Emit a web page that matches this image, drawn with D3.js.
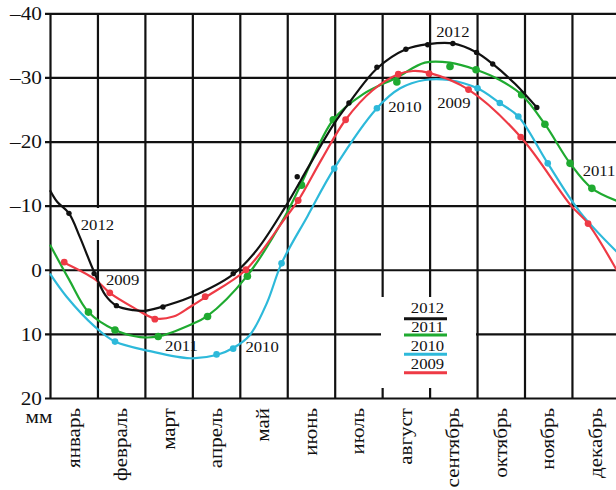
<!DOCTYPE html>
<html>
<head>
<meta charset="utf-8">
<script src="https://cdn.jsdelivr.net/npm/d3@7"></script>
<style>
  body { margin: 0; background: #fff; }
  svg { display: block; }
  text { font-family: "Liberation Serif", "Times New Roman", serif; fill: #111; }
</style>
</head>
<body>
<svg id="chart" width="616" height="490"></svg>
<script>
// ---- data -------------------------------------------------------------
const months = ["январь", "февраль", "март", "апрель", "май", "июнь",
                "июль", "август", "сентябрь", "октябрь", "ноябрь", "декабрь"];
const yTicks = [-40, -30, -20, -10, 0, 10, 20];
const unitLabel = "мм";
const years = ["2012", "2011", "2010", "2009"];

// smoothed level curves: [month position (0 = 1 January), level in mm]
const line2012 = [[0, -12.4], [0.15, -10.6], [0.40, -8.8], [0.63, -5.1], [0.91, 0.0], [1.17, 4.0],
  [1.40, 5.6], [1.76, 6.3], [2.0, 6.4], [2.3, 5.9], [2.95, 4.3], [3.86, 0.7], [4.36, -3.1],
  [4.95, -9.7], [5.46, -16.2], [5.97, -22.6], [6.30, -26.0], [6.89, -31.4], [7.50, -34.4],
  [7.97, -35.2], [8.49, -35.3], [8.99, -33.9], [9.33, -32.1], [9.80, -29.0], [10.26, -25.3]];
const line2011 = [[0, -3.9], [0.40, 1.5], [0.81, 6.6], [1.37, 9.4], [1.90, 10.5], [2.28, 10.4],
  [2.95, 8.6], [3.32, 7.2], [4.15, 1.0], [4.95, -8.3], [5.30, -13.5], [5.97, -23.4], [6.60, -27.4],
  [7.31, -30.0], [7.90, -32.3], [8.43, -32.3], [8.98, -31.2], [9.48, -29.6], [9.94, -27.3],
  [10.43, -22.7], [10.96, -16.6], [11.42, -12.7], [12, -10.6]];
const line2010 = [[0, 0.6], [0.35, 4.2], [0.95, 8.9], [1.37, 11.2], [2.11, 12.7], [2.95, 13.8],
  [3.51, 13.3], [3.86, 12.2], [4.21, 10.2], [4.57, 5.2], [4.88, -1.0], [5.43, -8.4], [5.99, -15.8],
  [6.89, -25.2], [7.38, -28.3], [7.90, -29.6], [8.40, -29.6], [9.01, -28.3], [9.48, -26.0],
  [9.87, -23.9], [10.49, -16.6], [11.17, -9.0], [12, -2.4]];
const line2009 = [[0.30, -1.1], [0.95, 1.5], [1.26, 3.6], [1.76, 5.9], [2.21, 7.6], [2.60, 7.3],
  [2.95, 5.8], [3.27, 4.3], [4.13, 0.0], [4.95, -8.0], [5.23, -10.8], [5.73, -17.3], [6.23, -23.4],
  [6.80, -28.0], [7.34, -30.5], [7.65, -31.0], [7.99, -30.7], [8.82, -28.1], [9.92, -20.7],
  [10.98, -10.0], [11.34, -7.2], [12, 0.8]];

// measured points: [month position, level in mm]
const dots2012 = [[0.40, -8.8], [0.93, 0.6], [1.40, 5.6], [2.38, 5.8], [3.86, 0.6], [5.21, -14.5],
  [6.30, -26.0], [6.89, -31.6], [7.50, -34.4], [7.96, -35.1], [8.49, -35.3], [8.99, -33.9],
  [9.33, -32.1], [10.26, -25.3]];
const dots2011 = [[0.81, 6.6], [1.37, 9.4], [2.28, 10.4], [3.32, 7.3], [4.16, 1.0], [5.30, -13.2],
  [5.97, -23.4], [7.31, -29.3], [8.43, -31.7], [8.98, -31.2], [9.94, -27.3], [10.43, -22.7],
  [10.96, -16.6], [11.42, -12.7]];
const dots2010 = [[1.37, 11.2], [3.51, 13.2], [3.86, 12.3], [4.88, -1.0], [5.99, -15.8],
  [6.89, -25.2], [9.01, -28.3], [9.48, -26.0], [9.87, -23.9], [10.49, -16.6]];
const dots2009 = [[0.30, -1.2], [1.26, 3.6], [2.21, 7.7], [3.27, 4.2], [4.13, 0.0], [5.23, -10.8],
  [6.23, -23.4], [7.34, -30.5], [7.99, -30.6], [8.82, -28.1], [9.92, -20.7], [11.34, -7.2]];

// ---- layout -----------------------------------------------------------
const svg = d3.select("#chart");
const W = 616, H = 490;
const plotLeft = 50, plotTop = 13.3, plotBottom = 398, plotRight = 619.4;
const textStretch = 1.15;

svg.append("rect").attr("width", W).attr("height", H).attr("fill", "#fff");

const x = d3.scaleLinear().domain([0, 12]).range([plotLeft, plotRight]);
const y = d3.scaleLinear().domain([-40, 20]).range([plotTop, plotBottom]);

const styles = {
  "2012": { color: "#111111", r: 2.7 },
  "2011": { color: "#1faa30", r: 3.8 },
  "2010": { color: "#2db9da", r: 3.3 },
  "2009": { color: "#ee3a45", r: 3.4 }
};
const series = {
  "2012": { line: line2012, dots: dots2012 },
  "2011": { line: line2011, dots: dots2011 },
  "2010": { line: line2010, dots: dots2010 },
  "2009": { line: line2009, dots: dots2009 }
};

// ---- grid (vertical month boundaries, horizontal level ticks) ---------
const gridColor = "#111";
const gx = svg.append("g")
  .attr("transform", `translate(0,${plotBottom})`)
  .call(d3.axisBottom(x).tickValues(d3.range(months.length + 1))
    .tickSize(-(plotBottom - plotTop)).tickSizeOuter(0).tickFormat(""));
gx.select(".domain").remove();
gx.selectAll(".tick line").attr("stroke", gridColor).attr("stroke-width", 2.2);

const gy = svg.append("g")
  .attr("transform", `translate(${plotLeft},0)`)
  .call(d3.axisLeft(y).tickValues(yTicks)
    .tickSize(-(plotRight - plotLeft)).tickSizeOuter(0).tickPadding(8)
    .tickFormat(d => d < 0 ? "–" + Math.abs(d) : String(d)));
gy.select(".domain").remove();
gy.selectAll(".tick line").attr("x1", -5).attr("stroke", gridColor).attr("stroke-width", 2.2);
gy.selectAll(".tick text")
  .attr("x", null).attr("dy", null)
  .attr("transform", `translate(-8,6.3) scale(${textStretch},1)`)
  .attr("font-size", 18.5)
  .attr("fill", "#111")
  .attr("font-family", "Liberation Serif, serif");

// unit label under the axis
svg.append("text")
  .attr("transform", `translate(39,423) scale(${textStretch},1)`)
  .attr("text-anchor", "middle")
  .attr("font-size", 18.5)
  .text(unitLabel);

// month names, rotated, one per column
svg.append("g").selectAll("text").data(months).join("text")
  .attr("transform", (d, i) => `translate(${x(i + 0.5)},408) rotate(-90) scale(1,0.86)`)
  .attr("text-anchor", "end")
  .attr("dy", "0.33em")
  .attr("font-size", 21)
  .text(d => d);

// ---- white patches behind the legend and the left 2012 label ----------
svg.append("rect").attr("x", 381).attr("y", 297).attr("width", 95).attr("height", 91).attr("fill", "#fff");
svg.append("rect").attr("x", 80).attr("y", 208).attr("width", 35).attr("height", 32).attr("fill", "#fff");

// ---- curves and measured points ---------------------------------------
const lineGen = d3.line()
  .x(d => x(d[0])).y(d => y(d[1]))
  .curve(d3.curveCatmullRom.alpha(0.5));

const drawOrder = ["2010", "2011", "2009", "2012"];
drawOrder.forEach(yr => {
  const s = series[yr], st = styles[yr];
  svg.append("path")
    .datum(s.line)
    .attr("d", lineGen)
    .attr("fill", "none")
    .attr("stroke", st.color)
    .attr("stroke-width", 2.2)
    .attr("stroke-linejoin", "round");
  svg.append("g").selectAll("circle").data(s.dots).join("circle")
    .attr("cx", d => x(d[0])).attr("cy", d => y(d[1]))
    .attr("r", st.r).attr("fill", st.color);
});

// ---- in-plot year labels (month position, mm at baseline) -------------
const yearLabels = [
  { text: "2012", m: 1.00, v: -6.2 },
  { text: "2009", m: 1.53, v: 2.4 },
  { text: "2011", m: 2.77, v: 12.6 },
  { text: "2010", m: 4.47, v: 12.8 },
  { text: "2010", m: 7.48, v: -24.6 },
  { text: "2009", m: 8.51, v: -25.2 },
  { text: "2012", m: 8.49, v: -36.3 },
  { text: "2011", m: 11.57, v: -14.6 }
];
svg.append("g").selectAll("text").data(yearLabels).join("text")
  .attr("transform", d => `translate(${x(d.m)},${y(d.v)}) scale(${textStretch},1)`)
  .attr("text-anchor", "middle")
  .attr("font-size", 14.5)
  .text(d => d.text);

// ---- legend -----------------------------------------------------------
const legend = svg.append("g");
const legendBaselines = [313.3, 331.7, 351, 369.3];
const legendLines = [318.7, 335, 354.3, 372.7];
years.forEach((yr, i) => {
  legend.append("text")
    .attr("transform", `translate(427.5,${legendBaselines[i]}) scale(${textStretch},1)`)
    .attr("text-anchor", "middle")
    .attr("font-size", 14.5)
    .text(yr);
  legend.append("line")
    .attr("x1", 404).attr("x2", 447)
    .attr("y1", legendLines[i]).attr("y2", legendLines[i])
    .attr("stroke", styles[yr].color)
    .attr("stroke-width", 3);
});
</script>
</body>
</html>
